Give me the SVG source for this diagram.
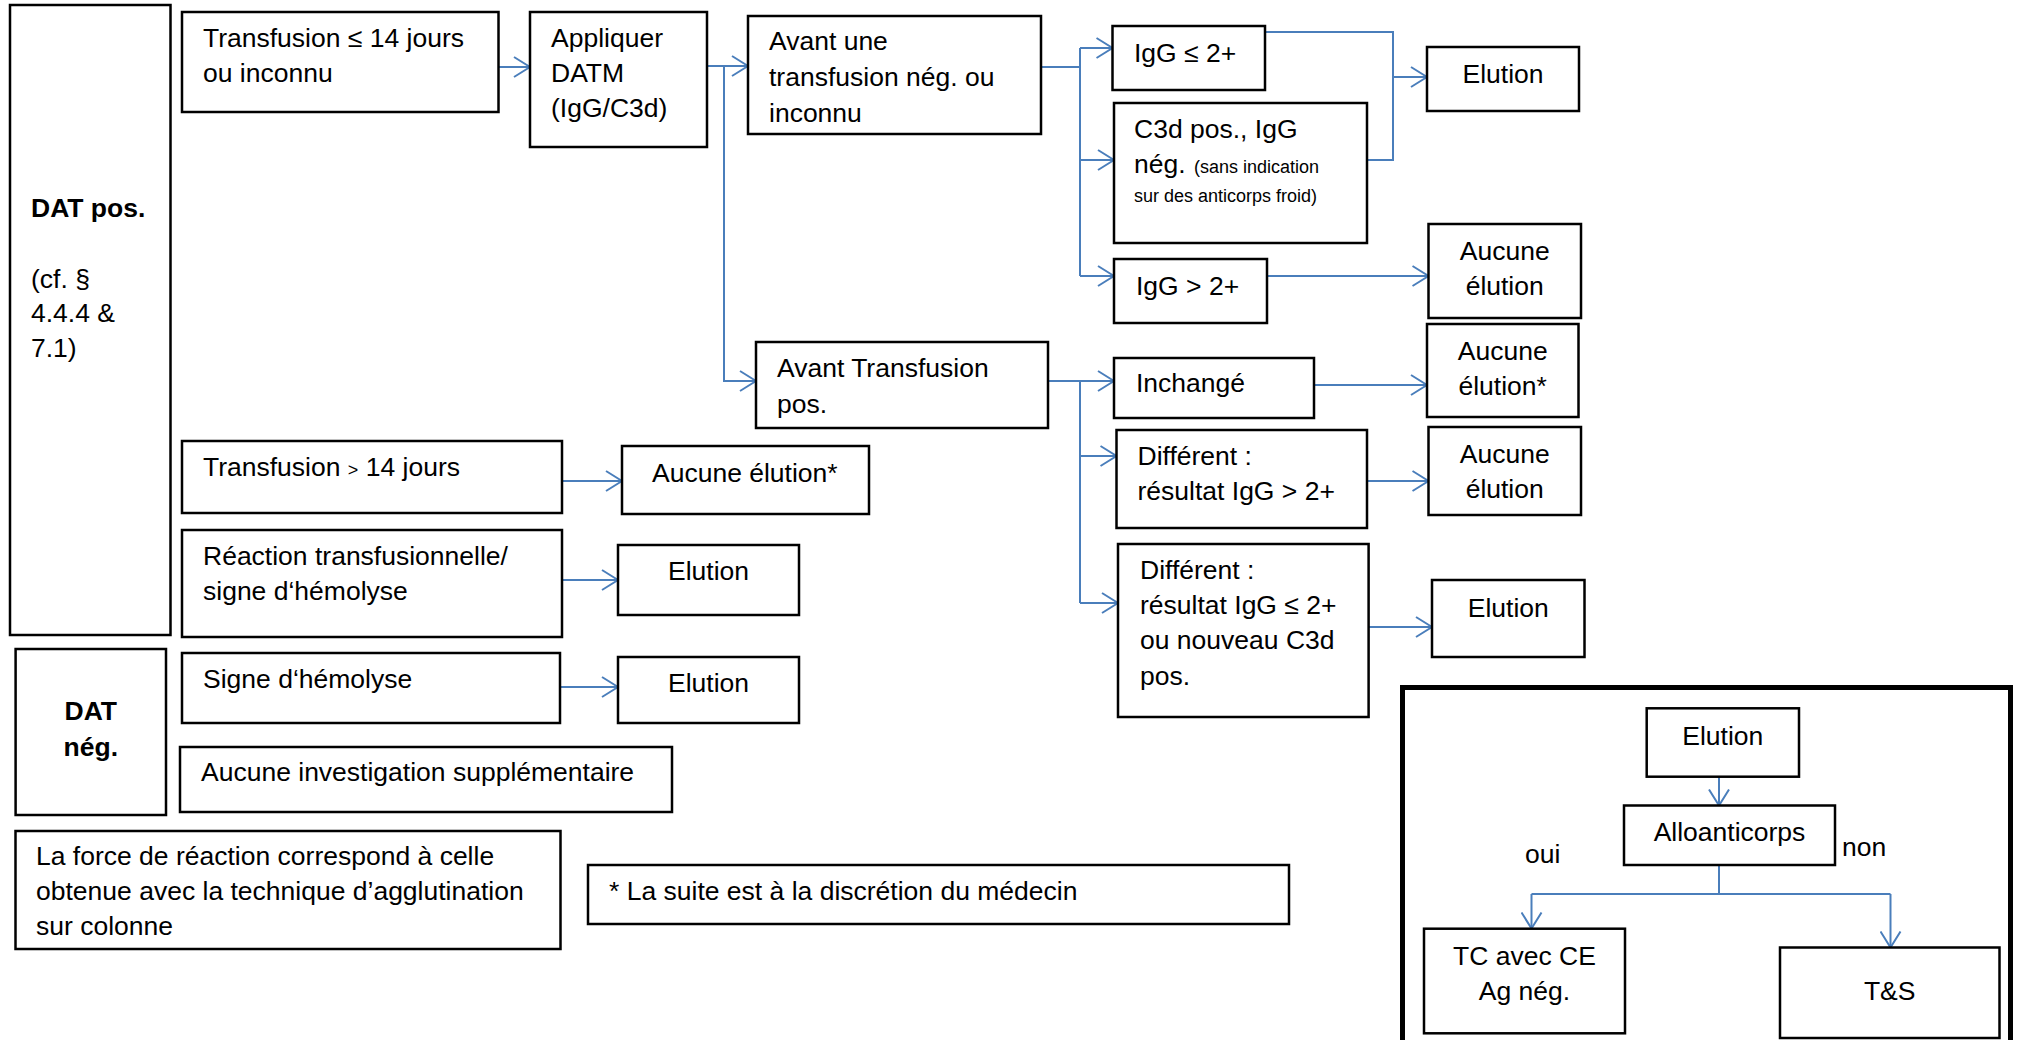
<svg xmlns="http://www.w3.org/2000/svg" width="2017" height="1040" viewBox="0 0 2017 1040">
<style>
.box{fill:#fff;stroke:#000;stroke-width:2.5}
.frame{fill:none;stroke:#000;stroke-width:5}
text{font-family:"Liberation Sans",Arial,sans-serif;font-size:26.5px;fill:#000}
.b{font-weight:bold}
.c{text-anchor:middle}
.s{font-size:18px}
.con{fill:none;stroke:#4A7EBB;stroke-width:2}
.arr{marker-end:url(#ah)}
</style>
<defs>
<marker id="ah" markerUnits="userSpaceOnUse" viewBox="0 0 18 22" markerWidth="18" markerHeight="22" refX="17" refY="11" orient="auto">
<path d="M1,1 L17,11 L1,21" fill="none" stroke="#4A7EBB" stroke-width="2"/>
</marker>
</defs>
<rect width="2017" height="1040" fill="#fff"/>

<g id="legend-frame"><rect class="frame" x="1402.5" y="687.5" width="608" height="360"/></g>

<g id="connectors">
<path class="con arr" d="M498,67 H530"/>
<path class="con arr" d="M707,66 H748"/>
<path class="con arr" d="M724,66 V381 H756"/>
<path class="con" d="M1041,67 H1080 M1080,48 V276"/>
<path class="con arr" d="M1080,48 H1112.5"/>
<path class="con arr" d="M1080,160 H1114"/>
<path class="con arr" d="M1080,276 H1114"/>
<path class="con" d="M1265,32 H1393 V160 H1367"/>
<path class="con arr" d="M1393,77 H1427"/>
<path class="con arr" d="M1267,276 H1428.5"/>
<path class="con arr" d="M1048,381 H1114"/>
<path class="con" d="M1080,381 V603"/>
<path class="con arr" d="M1080,456 H1116.5"/>
<path class="con arr" d="M1080,603 H1118"/>
<path class="con arr" d="M1314,385 H1427"/>
<path class="con arr" d="M1367,481 H1428.5"/>
<path class="con arr" d="M1368.6,627 H1432"/>
<path class="con arr" d="M562,481 H622"/>
<path class="con arr" d="M561,580 H618"/>
<path class="con arr" d="M560,687 H618"/>
<path class="con arr" d="M1719,777 V805.5"/>
<path class="con" d="M1719,865 V894 M1531.5,894 H1890.5"/>
<path class="con arr" d="M1531.5,894 V928.5"/>
<path class="con arr" d="M1890.5,894 V947.5"/>
</g>

<g id="dat-pos"><rect class="box" x="10" y="5" width="160.5" height="630"/>
<text class="b" x="31" y="217">DAT pos.</text>
<text x="31" y="288">(cf. §</text><text x="31" y="322">4.4.4 &amp;</text><text x="31" y="357">7.1)</text></g>

<g id="transfusion-le14"><rect class="box" x="182" y="12" width="316.5" height="100"/>
<text x="203" y="47">Transfusion ≤ 14 jours</text><text x="203" y="82">ou inconnu</text></g>

<g id="appliquer-datm"><rect class="box" x="530" y="12" width="177" height="135"/>
<text x="551" y="47">Appliquer</text><text x="551" y="82">DATM</text><text x="551" y="117">(IgG/C3d)</text></g>

<g id="avant-neg"><rect class="box" x="748" y="16" width="293" height="118"/>
<text x="769" y="50">Avant une</text><text x="769" y="86">transfusion nég. ou</text><text x="769" y="122">inconnu</text></g>

<g id="igg-le2"><rect class="box" x="1112.5" y="26" width="152.5" height="64"/>
<text x="1134" y="62">IgG ≤ 2+</text></g>

<g id="c3d-pos"><rect class="box" x="1114" y="103" width="253" height="140"/>
<text x="1134" y="138">C3d pos., IgG</text>
<text x="1134" y="173">nég.</text><text class="s" x="1194" y="173">(sans indication</text>
<text class="s" x="1134" y="202">sur des anticorps froid)</text></g>

<g id="igg-gt2"><rect class="box" x="1114" y="259" width="153" height="64"/>
<text x="1136" y="295">IgG &gt; 2+</text></g>

<g id="elution-1"><rect class="box" x="1427" y="47" width="152" height="64"/>
<text class="c" x="1503" y="83">Elution</text></g>

<g id="aucune-elution-1"><rect class="box" x="1428.5" y="224" width="152.5" height="94"/>
<text class="c" x="1504.7" y="260">Aucune</text><text class="c" x="1504.7" y="295">élution</text></g>

<g id="avant-pos"><rect class="box" x="756" y="342" width="292" height="86"/>
<text x="777" y="377">Avant Transfusion</text><text x="777" y="413">pos.</text></g>

<g id="inchange"><rect class="box" x="1114" y="358" width="200" height="60"/>
<text x="1136" y="392">Inchangé</text></g>

<g id="aucune-elution-2"><rect class="box" x="1427" y="324" width="151.5" height="93"/>
<text class="c" x="1502.7" y="360">Aucune</text><text class="c" x="1502.7" y="395">élution*</text></g>

<g id="different-gt2"><rect class="box" x="1116.5" y="430" width="250.5" height="98"/>
<text x="1137.5" y="465">Différent :</text><text x="1137.5" y="500">résultat IgG &gt; 2+</text></g>

<g id="aucune-elution-3"><rect class="box" x="1428.5" y="427" width="152.5" height="88"/>
<text class="c" x="1504.7" y="463">Aucune</text><text class="c" x="1504.7" y="498">élution</text></g>

<g id="different-le2"><rect class="box" x="1118" y="544" width="250.6" height="173"/>
<text x="1140" y="579">Différent :</text><text x="1140" y="614">résultat IgG ≤ 2+</text><text x="1140" y="649">ou nouveau C3d</text><text x="1140" y="685">pos.</text></g>

<g id="elution-3"><rect class="box" x="1432" y="580" width="152.5" height="77"/>
<text class="c" x="1508.3" y="617">Elution</text></g>

<g id="transfusion-gt14"><rect class="box" x="182" y="441" width="380" height="72"/>
<text x="203" y="476">Transfusion <tspan class="s">&gt;</tspan> 14 jours</text></g>

<g id="aucune-elution-mid"><rect class="box" x="622" y="446" width="247" height="68"/>
<text x="652" y="482">Aucune élution*</text></g>

<g id="reaction"><rect class="box" x="182" y="530" width="380" height="107"/>
<text x="203" y="565">Réaction transfusionnelle/</text><text x="203" y="600">signe d‘hémolyse</text></g>

<g id="elution-mid1"><rect class="box" x="618" y="545" width="181" height="70"/>
<text class="c" x="708.5" y="580">Elution</text></g>

<g id="dat-neg"><rect class="box" x="15.6" y="649" width="150.4" height="166"/>
<text class="b c" x="90.8" y="720">DAT</text><text class="b c" x="90.8" y="756">nég.</text></g>

<g id="signe"><rect class="box" x="182" y="653" width="378" height="70"/>
<text x="203" y="688">Signe d‘hémolyse</text></g>

<g id="elution-mid2"><rect class="box" x="618" y="657" width="181" height="66"/>
<text class="c" x="708.5" y="692">Elution</text></g>

<g id="aucune-investigation"><rect class="box" x="180" y="747" width="492" height="65"/>
<text x="201" y="781">Aucune investigation supplémentaire</text></g>

<g id="note-force"><rect class="box" x="15.5" y="831" width="545" height="118"/>
<text x="36" y="865">La force de réaction correspond à celle</text><text x="36" y="900">obtenue avec la technique d’agglutination</text><text x="36" y="935">sur colonne</text></g>

<g id="note-suite"><rect class="box" x="588" y="865" width="701" height="59"/>
<text x="609" y="900">* La suite est à la discrétion du médecin</text></g>

<g id="legend-elution"><rect class="box" x="1646.7" y="708.3" width="152.3" height="68.4"/>
<text class="c" x="1722.8" y="745">Elution</text></g>

<g id="alloanticorps"><rect class="box" x="1624" y="805.5" width="211" height="59.5"/>
<text class="c" x="1729.5" y="840.5">Alloanticorps</text></g>

<g id="label-oui"><text x="1525" y="863">oui</text></g>
<g id="label-non"><text x="1842" y="855.5">non</text></g>

<g id="tc-avec-ce"><rect class="box" x="1424" y="928.7" width="201" height="104.6"/>
<text class="c" x="1524.5" y="965">TC avec CE</text><text class="c" x="1524.5" y="1000">Ag nég.</text></g>

<g id="ts"><rect class="box" x="1780" y="947.5" width="219.5" height="90.5"/>
<text class="c" x="1889.7" y="1000">T&amp;S</text></g>
</svg>
